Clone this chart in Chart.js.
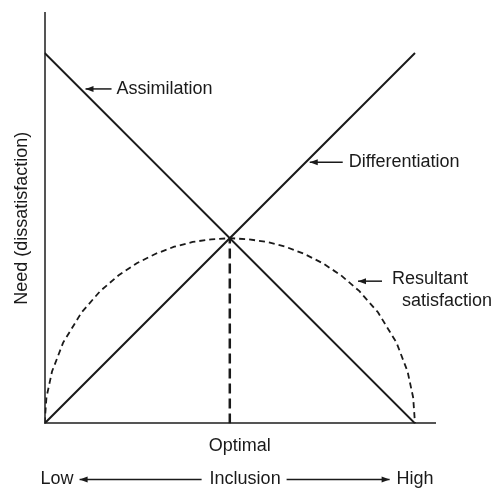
<!DOCTYPE html>
<html>
<head>
<meta charset="utf-8">
<script src="https://cdn.jsdelivr.net/npm/chart.js@4.4.1/dist/chart.umd.min.js"></script>
<style>
  html, body { margin: 0; padding: 0; background: #fff; }
  #wrap { width: 495px; height: 491px; }
</style>
</head>
<body>
<div id="wrap"><canvas id="grafico"></canvas></div>
<script>
// dados
const assimX = [0, 10];
const assimY = [10, 0];
const difX = [0, 10];
const difY = [0, 10];
const satX = [0, 0.05, 0.2, 0.5, 1, 1.5, 2, 2.5, 3, 3.5, 4, 4.5, 5, 5.5, 6, 6.5, 7, 7.5, 8, 8.5, 9, 9.5, 9.8, 9.95, 10];
const satY = [0, 0.7, 1.4, 2.18, 3, 3.57, 4, 4.33, 4.58, 4.77, 4.9, 4.97, 5, 4.97, 4.9, 4.77, 4.58, 4.33, 4, 3.57, 3, 2.18, 1.4, 0.7, 0];
const optX = [5, 5];
const optY = [0, 5];

const pts = (xs, ys) => xs.map((x, i) => ({ x: x, y: ys[i] }));
const FONT = '18px "Liberation Sans", Arial, sans-serif';
const INK = '#1a1a1a';

// setas e rotulos
function arrow(ctx, tipX, tailX, y) {
  ctx.beginPath();
  ctx.moveTo(tipX, y);
  ctx.lineTo(tailX, y);
  ctx.lineWidth = 1.5;
  ctx.strokeStyle = INK;
  ctx.stroke();
  const d = tailX > tipX ? 1 : -1;
  ctx.beginPath();
  ctx.moveTo(tipX, y);
  ctx.lineTo(tipX + d * 8, y - 3);
  ctx.lineTo(tipX + d * 8, y + 3);
  ctx.closePath();
  ctx.fillStyle = INK;
  ctx.fill();
}

const labels = {
  id: 'labels',
  afterDraw(chart) {
    const ctx = chart.ctx, xs = chart.scales.x, ys = chart.scales.y, a = chart.chartArea;
    ctx.save();
    ctx.font = FONT;
    ctx.fillStyle = INK;
    ctx.textBaseline = 'middle';
    ctx.textAlign = 'left';

    // Assimilation
    let px = xs.getPixelForValue(0.97), py = ys.getPixelForValue(9.03);
    arrow(ctx, px + 5, px + 31, py);
    ctx.fillText('Assimilation', px + 36, py);

    // Differentiation
    px = xs.getPixelForValue(7.05); py = ys.getPixelForValue(7.05);
    arrow(ctx, px + 4, px + 37, py);
    ctx.fillText('Differentiation', px + 43, py);

    // Resultant satisfaction
    px = xs.getPixelForValue(8.3); py = ys.getPixelForValue(3.84);
    arrow(ctx, px + 6, px + 30, py);
    ctx.fillText('Resultant', px + 40, py - 2);
    ctx.fillText('satisfaction', px + 50, py + 20);

    // eixo x: Low <-- Inclusion --> High
    const by = a.bottom + 56;
    ctx.fillText('Low', a.left - 4, by);
    arrow(ctx, a.left + 35, a.left + 157, by);
    ctx.fillText('Inclusion', a.left + 165, by);
    arrow(ctx, a.left + 345, a.left + 242, by);
    ctx.fillText('High', a.left + 352, by);
    ctx.restore();
  }
};

let graf = new Chart(document.getElementById('grafico'), {
  type: 'scatter',
  data: {
    datasets: [{
      label: 'Assimilation',
      data: pts(assimX, assimY),
      showLine: true,
      borderColor: INK,
      borderWidth: 2,
      pointRadius: 0
    }, {
      label: 'Differentiation',
      data: pts(difX, difY),
      showLine: true,
      borderColor: INK,
      borderWidth: 2,
      pointRadius: 0
    }, {
      label: 'Resultant satisfaction',
      data: pts(satX, satY),
      showLine: true,
      borderColor: INK,
      borderWidth: 1.8,
      borderDash: [6, 4],
      pointRadius: 0
    }, {
      label: 'Optimal',
      data: pts(optX, optY),
      showLine: true,
      borderColor: INK,
      borderWidth: 2.5,
      borderDash: [10, 5],
      pointRadius: 0
    }]
  },
  options: {
    responsive: true,
    maintainAspectRatio: false,
    animation: false,
    layout: { padding: { left: 11, top: 13, right: 60, bottom: 34 } },
    plugins: { legend: { display: false }, tooltip: { enabled: false } },
    scales: {
      x: {
        type: 'linear', min: 0, max: 10.54,
        grid: { display: false, drawTicks: false },
        ticks: { display: false },
        border: { display: true, color: '#555', width: 2 },
        title: { display: true, text: 'Optimal', color: INK, font: { family: '"Liberation Sans", Arial, sans-serif', size: 18 }, padding: { top: 12, bottom: 0 } }
      },
      y: {
        type: 'linear', min: 0, max: 11.08,
        grid: { display: false, drawTicks: false },
        ticks: { display: false },
        border: { display: true, color: '#555', width: 2 },
        title: { display: true, text: 'Need (dissatisfaction)', color: INK, font: { family: '"Liberation Sans", Arial, sans-serif', size: 18 }, padding: { top: 0, bottom: 12 } }
      }
    }
  },
  plugins: [labels]
});
</script>
</body>
</html>
